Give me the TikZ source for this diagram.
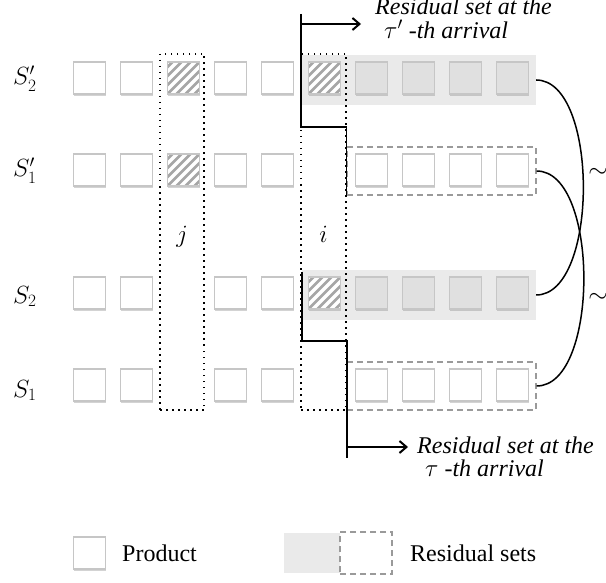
\documentclass[tikz,border=0pt]{standalone}
\usepackage{fontspec}
\setmainfont{Liberation Serif}
\usetikzlibrary{arrows.meta,shadows}
\definecolor{sqborder}{HTML}{C6C6C6}
\definecolor{sqgray}{HTML}{E0E0E0}
\definecolor{bggray}{HTML}{EAEAEA}
\definecolor{hatchc}{HTML}{A6A6A6}
\definecolor{dashc}{HTML}{9A9A9A}
\tikzset{
  prod/.style={draw=sqborder, line width=1.5pt, fill=white, minimum size=32pt, inner sep=0pt,
    drop shadow={shadow xshift=0pt, shadow yshift=-2pt, opacity=0.35, fill=gray}},
  gprod/.style={prod, fill=sqgray},
  hprod/.style={prod, fill=white, path picture={
    \foreach \k in {-5,...,4}{\draw[hatchc, line width=2.6pt]
      ([xshift=\k*9pt]path picture bounding box.south west) -- ++(44pt,44pt);}}},
  bgbox/.style={fill=bggray, minimum width=234pt, minimum height=50pt, inner sep=0pt},
  dbox/.style={draw=dashc, line width=1.4pt, dash pattern=on 6pt off 4pt, minimum width=189pt, minimum height=48pt, inner sep=0pt},
  dcol/.style={draw=black, line width=1.5pt, dash pattern=on 1.5pt off 4.5pt, inner sep=0pt},
  stepline/.style={line width=1.8pt, black},
  arr/.style={line width=1.8pt, -{Straight Barb[length=7pt,width=12pt,line width=2pt]}},
  curveline/.style={line width=1.5pt},
  lbl/.style={font=\fontsize{24}{24}\selectfont\itshape, inner sep=0pt},
  txt/.style={font=\fontsize{24}{24}\selectfont, inner sep=0pt},
  mlbl/.style={font=\fontsize{24}{24}\selectfont, inner sep=0pt}
}
\begin{document}
\begin{tikzpicture}[x=1pt,y=-1pt]
\useasboundingbox (0,0) rectangle (606,583);
% backgrounds of residual sets
\node[bgbox] (bgA) at (419,80) {};
\node[bgbox] (bgC) at (419,295) {};
% dotted columns
\node[dcol, minimum width=44pt, minimum height=356pt] (colj) at (182,232) {};
\node[dcol, minimum width=45pt, minimum height=356pt] (coli) at (323.5,232) {};
% dashed boxes
\node[dbox] (dbB) at (441.5,171) {};
\node[dbox] (dbD) at (441.5,386) {};
% row S2'
\foreach \k in {0,1,3,4} \node[prod] (a\k) at ({89.5+47*\k},78) {};
\node[hprod] (a2) at ({89.5+47*2},78) {};
\node[hprod] (a5) at ({89.5+47*5},78) {};
\foreach \k in {6,...,9} \node[gprod] (a\k) at ({89.5+47*\k},78) {};
% row S1'
\foreach \k in {0,1,3,4,6,7,8,9} \node[prod] (b\k) at ({89.5+47*\k},170) {};
\node[hprod] (b2) at ({89.5+47*2},170) {};
% row S2
\foreach \k in {0,1,3,4} \node[prod] (c\k) at ({89.5+47*\k},293) {};
\node[hprod] (c5) at ({89.5+47*5},293) {};
\foreach \k in {6,...,9} \node[gprod] (c\k) at ({89.5+47*\k},293) {};
% row S1
\foreach \k in {0,1,3,4,6,7,8,9} \node[prod] (d\k) at ({89.5+47*\k},385) {};
% row labels
\node[mlbl, anchor=base west] (lA) at (13,85) {$S_2'$};
\node[mlbl, anchor=base west] (lB) at (13,177) {$S_1'$};
\node[mlbl, anchor=base west] (lC) at (13,303) {$S_2$};
\node[mlbl, anchor=base west] (lD) at (13,397) {$S_1$};
\node[mlbl, anchor=base] (lj) at (182,243) {$j$};
\node[mlbl, anchor=base] (li) at (323.5,243) {$i$};
% step lines
\coordinate (t0) at (301,14);
\coordinate (t2) at (346.5,127);
\coordinate (t3) at (346.5,195);
\coordinate (ta0) at (301,24);
\coordinate (ta1) at (361,24);
\draw[stepline] (t0) |- (t2) -- (t3);
\draw[arr] (ta0) -- (ta1);
\coordinate (u0) at (302,272);
\coordinate (u2) at (347,341);
\coordinate (u3) at (347,458);
\coordinate (ua0) at (347,447);
\coordinate (ua1) at (408,447);
\draw[stepline] (u0) |- (u2) -- (u3);
\draw[arr] (ua0) -- (ua1);
% annotations
\node[lbl, anchor=base west] (ttop1) at (375,15) {Residual set at the};
\node[lbl, anchor=base west] (ttop2) at (384,39) {$\tau'$ -th arrival};
\node[lbl, anchor=base west] (tbot1) at (417,453) {Residual set at the};
\node[lbl, anchor=base west] (tbot2) at (425,476) {$\tau$ -th arrival};
% equivalence curves
\draw[curveline] (bgA.east) to[out=0,in=0,looseness=0.75] (bgC.east);
\draw[curveline] (dbB.east) to[out=0,in=0,looseness=0.75] (dbD.east);
\node[mlbl] (sim1) at (598,173) {$\sim$};
\node[mlbl] (sim2) at (598,298) {$\sim$};
% legend
\node[prod] (lp) at (89.5,553) {};
\node[txt, anchor=west] (lpt) at (122,553) {Product};
\node[fill=bggray, minimum width=56pt, minimum height=40pt, inner sep=0pt] (lg) at (312,553) {};
\node[draw=dashc, line width=1.4pt, dash pattern=on 6pt off 4pt, minimum width=52pt, minimum height=42pt, inner sep=0pt] (ld) at (366,553) {};
\node[txt, anchor=west] (ldt) at (410,553) {Residual sets};
\end{tikzpicture}
\end{document}
